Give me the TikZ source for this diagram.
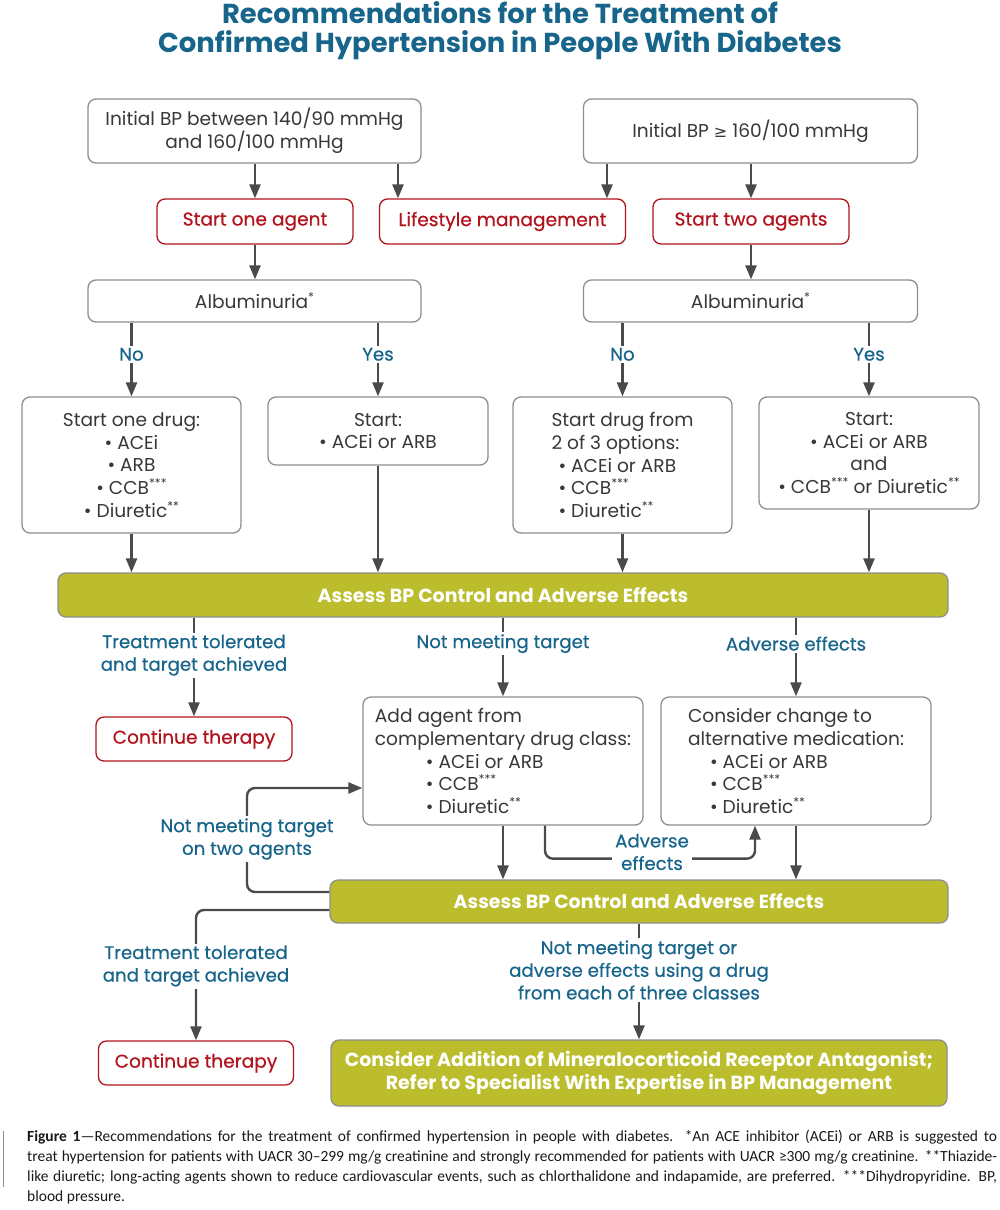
\documentclass[tikz,border=0pt]{standalone}
\usepackage{fontspec}
\setmainfont{Poppins}
\newfontfamily\labfont[FakeBold=0.5]{Poppins}
\newfontfamily\capfont{Carlito}
\newfontfamily\symfont{DejaVu Sans}
\usetikzlibrary{arrows.meta}
\definecolor{tealc}{HTML}{17658A}
\definecolor{redc}{HTML}{B3131D}
\definecolor{olivec}{HTML}{BBBD2C}
\definecolor{txtc}{HTML}{383838}
\definecolor{linec}{HTML}{4A4A4A}
\definecolor{bordc}{HTML}{8E8E8E}
\newcommand\sst[1]{\raisebox{0.36em}{\fontsize{12}{12}\selectfont #1}}
\newcommand\bodysize{\fontsize{18.6}{22.6}\selectfont}
\newcommand\capline[1]{\hbox to 970pt{\spaceskip=0.226em plus 0.8em minus 0.13em #1}}
\begin{document}
\begin{tikzpicture}[x=1pt,y=-1pt,
  box/.style={draw=bordc, line width=1.3pt, rounded corners=8pt, fill=white, text=txtc, align=center, font=\bodysize, inner sep=0pt},
  redbox/.style={draw=redc, line width=1.3pt, rounded corners=8pt, fill=white, text=redc, align=center, font=\labfont\bodysize, inner sep=0pt},
  bar/.style={draw=bordc, line width=1.3pt, rounded corners=8pt, fill=olivec, text=white, align=center, font=\bfseries\fontsize{19}{23}\selectfont, inner sep=0pt},
  lab/.style={text=tealc, font=\labfont\fontsize{18.2}{22.6}\selectfont, align=center, fill=white, inner sep=2pt},
  arr/.style={draw=linec, line width=2.4pt, -{Triangle[length=14pt,width=11pt]}},
  ln/.style={draw=linec, line width=2.4pt}
]
\useasboundingbox (0,0) rectangle (1000,1210);

% title
\node[text=tealc, align=center, font=\bfseries\fontsize{27.4}{29}\selectfont, inner sep=0pt] (title) at (500,31) {Recommendations for the Treatment of\\Confirmed Hypertension in People With Diabetes};

% top boxes
\node[box, minimum width=333pt, minimum height=64pt] (A) at (254.5,131) {Initial BP between 140/90 mmHg\\and 160/100 mmHg};
\node[box, minimum width=334pt, minimum height=64pt] (B) at (750.5,131) {Initial BP {\symfont\fontsize{16}{16}\selectfont ≥} 160/100 mmHg};

\node[redbox, minimum width=196pt, minimum height=45pt] (sa) at (255,221.5) {Start one agent};
\node[redbox, minimum width=246pt, minimum height=45pt] (ls) at (502.5,221.5) {Lifestyle management};
\node[redbox, minimum width=196pt, minimum height=45pt] (st) at (751,221.5) {Start two agents};

\coordinate (k1) at (398,0);
\coordinate (k2) at (607,0);
\draw[arr] (A.south -| sa.north) -- (sa.north);
\draw[arr] (A.south -| k1) -- (ls.north -| k1);
\draw[arr] (B.south -| k2) -- (ls.north -| k2);
\draw[arr] (B.south -| st.north) -- (st.north);

\node[box, minimum width=333pt, minimum height=42pt] (alb1) at (254.5,301) {Albuminuria\sst{*}};
\node[box, minimum width=334pt, minimum height=42pt] (alb2) at (750.5,301) {Albuminuria\sst{*}};
\draw[arr] (sa.south) -- (sa.south |- alb1.north);
\draw[arr] (st.south) -- (st.south |- alb2.north);

% drug boxes
\node[box, minimum width=219pt, minimum height=136pt] (d1) at (131.5,465) {Start one drug:\\\textbullet\ ACEi\\\textbullet\ ARB\\\textbullet\ CCB\sst{***}\\\textbullet\ Diuretic\sst{**}};
\node[box, minimum width=220pt, minimum height=68pt] (d2) at (378,431) {Start:\\\textbullet\ ACEi or ARB};
\node[box, minimum width=219pt, minimum height=136pt, align=left] (d3) at (622.5,465) {Start drug from\\2 of 3 options:\\\hspace{7pt}\textbullet\ ACEi or ARB\\\hspace{7pt}\textbullet\ CCB\sst{***}\\\hspace{7pt}\textbullet\ Diuretic\sst{**}};
\node[box, minimum width=220pt, minimum height=112pt] (d4) at (869,453) {Start:\\\textbullet\ ACEi or ARB\\and\\\textbullet\ CCB\sst{***} or Diuretic\sst{**}};

\draw[arr] (alb1.south -| d1.north) -- node[lab, pos=0.43] (no1) {No} (d1.north);
\draw[arr] (alb1.south -| d2.north) -- node[lab, pos=0.43] (ye1) {Yes} (d2.north);
\draw[arr] (alb2.south -| d3.north) -- node[lab, pos=0.43] (no2) {No} (d3.north);
\draw[arr] (alb2.south -| d4.north) -- node[lab, pos=0.43] (ye2) {Yes} (d4.north);

% bar 1
\node[bar, minimum width=890pt, minimum height=44pt] (bar1) at (503,595) {Assess BP Control and Adverse Effects};
\draw[arr] (d1.south) -- (bar1.north -| d1.south);
\draw[arr] (d2.south) -- (bar1.north -| d2.south);
\draw[arr] (d3.south) -- (bar1.north -| d3.south);
\draw[arr] (d4.south) -- (bar1.north -| d4.south);

% level 2
\node[redbox, minimum width=196pt, minimum height=44pt] (cont1) at (194,739) {Continue therapy};
\node[box, minimum width=280pt, minimum height=128pt, align=left] (add) at (503,761) {Add agent from\\complementary drug class:\\\hspace{51pt}\textbullet\ ACEi or ARB\\\hspace{51pt}\textbullet\ CCB\sst{***}\\\hspace{51pt}\textbullet\ Diuretic\sst{**}};
\node[box, minimum width=270pt, minimum height=128pt, align=left] (con) at (796,761) {Consider change to\\alternative medication:\\\hspace{22pt}\textbullet\ ACEi or ARB\\\hspace{22pt}\textbullet\ CCB\sst{***}\\\hspace{22pt}\textbullet\ Diuretic\sst{**}};

\draw[arr] (bar1.south -| cont1.north) -- node[lab, pos=0.38] (tt1) {Treatment tolerated\\and target achieved} (cont1.north);
\draw[arr] (bar1.south -| add.north) -- node[lab, pos=0.33] (nm1) {Not meeting target} (add.north);
\draw[arr] (bar1.south -| con.north) -- node[lab, pos=0.33] (ae1) {Adverse effects} (con.north);

% bar 2
\node[bar, minimum width=618pt, minimum height=43pt] (bar2) at (639,901.5) {Assess BP Control and Adverse Effects};
\draw[arr] (add.south) -- (bar2.north -| add.south);
\draw[arr] (con.south) -- (bar2.north -| con.south);

% adverse effects loop
\coordinate (q1) at (545,0);
\coordinate (q2) at (755,0);
\draw[arr, rounded corners=8pt] (add.south -| q1) -- ++(0,33) -| (con.south -| q2);
\node[lab, inner sep=3pt] (advl) at (652,852) {Adverse\\effects};

% not meeting target on two agents loop
\coordinate (lp1) at (0,892);
\coordinate (lp2) at (247,788);
\draw[arr, rounded corners=8pt] (bar2.west |- lp1) -| (lp2) -- (add.west |- lp2);
\node[lab] (nm2) at (247,839) {Not meeting target\\on two agents};

% final level
\node[redbox, minimum width=195pt, minimum height=44pt] (cont2) at (196,1063) {Continue therapy};
\node[bar, minimum width=616pt, minimum height=66pt] (fin) at (639,1073) {Consider Addition of Mineralocorticoid Receptor Antagonist;\\Refer to Specialist With Expertise in BP Management};

\coordinate (lp3) at (0,910);
\draw[arr, rounded corners=8pt] (bar2.west |- lp3) -| (cont2.north);
\node[lab] (tt2) at (196,966) {Treatment tolerated\\and target achieved};
\draw[arr] (bar2.south -| fin.north) -- node[lab, pos=0.40] (nm3) {Not meeting target or\\adverse effects using a drug\\from each of three classes} (fin.north);

% caption
\draw[draw=bordc, line width=1pt] (3,1131) -- (3,1187);
\node[anchor=north west, align=left, inner sep=0pt, text=black!90, font=\capfont\fontsize{15.5}{20}\selectfont] (cap) at (27,1130) {%
\capline{\textbf{Figure 1}—Recommendations for the treatment of confirmed hypertension in people with diabetes. *An ACE inhibitor (ACEi) or ARB is suggested to}\\
\capline{treat hypertension for patients with UACR 30–299 mg/g creatinine and strongly recommended for patients with UACR ≥300 mg/g creatinine. **Thiazide-}\\
\capline{like diuretic; long-acting agents shown to reduce cardiovascular events, such as chlorthalidone and indapamide, are preferred. ***Dihydropyridine. BP,}\\
blood pressure.};
\end{tikzpicture}
\end{document}
